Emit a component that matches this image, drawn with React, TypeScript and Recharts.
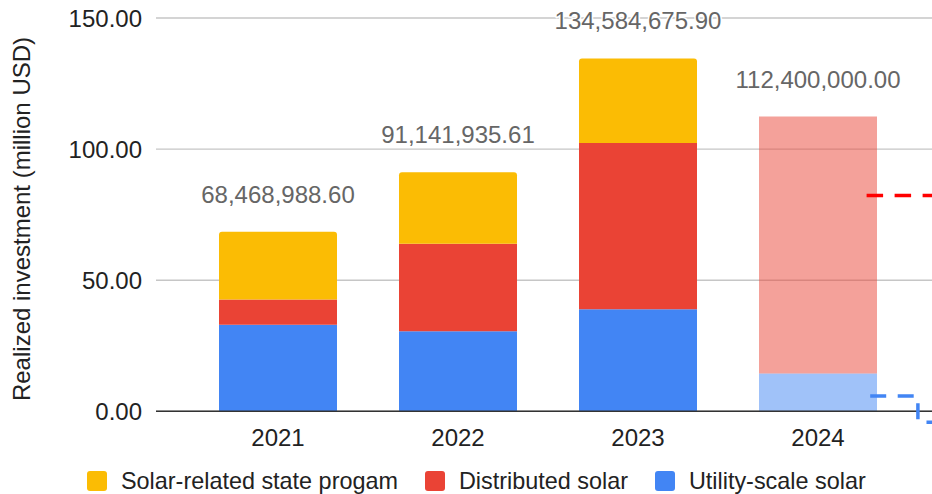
import React from 'react';
import {
  ComposedChart,
  Bar,
  Line,
  XAxis,
  YAxis,
  CartesianGrid,
  ReferenceLine,
  LabelList,
  Legend,
  Cell,
} from 'recharts';

// Realized solar investment per year, in million USD
const years = ['2021', '2022', '2023', '2024'];
const utilityScaleSolar = [33.0, 30.5, 38.9, 14.4];
const distributedSolar = [9.6, 33.4, 63.4, 98.0];
// Yearly totals in USD (the solar-related state program fills the rest of each stack)
const totalUsd = [68468988.6, 91141935.61, 134584675.9, 112400000.0];
// Years that are shown in a lighter shade
const partialYear = [false, false, false, true];
const yTicks = [0, 50, 100, 150];

// Dashed guide lines on the right, positioned on a numeric copy of the category axis
const distributedGuide = [
  { pos: 3.77, value: 82.3 },
  { pos: 4.3, value: 82.3 },
];
const utilityGuide = [
  { pos: 3.79, value: 5.8 },
  { pos: 4.055, value: 5.8 },
  { pos: 4.055, value: -4.2 },
  { pos: 4.3, value: -4.2 },
];

const COLORS = {
  state: '#fbbc04',
  distributed: '#ea4335',
  utility: '#4285f4',
};

const FONT = '"Liberation Sans", Arial, sans-serif';

const rows = years.map((year, i) => {
  const total = totalUsd[i] / 1e6;
  return {
    year,
    utility: utilityScaleSolar[i],
    distributed: distributedSolar[i],
    state: Math.max(0, total - utilityScaleSolar[i] - distributedSolar[i]),
    total,
    totalUsd: totalUsd[i],
  };
});

const legendItems = [
  { label: 'Solar-related state progam', color: COLORS.state },
  { label: 'Distributed solar', color: COLORS.distributed },
  { label: 'Utility-scale solar', color: COLORS.utility },
];

const formatUsd = (v: number) =>
  v.toLocaleString('en-US', { minimumFractionDigits: 2, maximumFractionDigits: 2 });

const TotalLabel = (props: any) => {
  const { x, y, index } = props;
  if (x == null || y == null) return null;
  return (
    <text
      x={x}
      y={y - 29}
      textAnchor="middle"
      fontFamily={FONT}
      fontSize={24}
      fill="#666666"
      stroke="#ffffff"
      strokeWidth={3}
      strokeLinejoin="round"
      paintOrder="stroke"
    >
      {formatUsd(rows[index].totalUsd)}
    </text>
  );
};

const YearTick = (props: any) => {
  const { x, y, payload } = props;
  return (
    <text x={x} y={y + 19} textAnchor="middle" fontFamily={FONT} fontSize={24} fill="#222222">
      {payload.value}
    </text>
  );
};

const LegendContent = () => (
  <div
    style={{
      display: 'flex',
      alignItems: 'center',
      paddingLeft: 87,
      fontFamily: FONT,
      fontSize: 23.4,
      color: '#222222',
      lineHeight: '26px',
    }}
  >
    {legendItems.map((item, i) => (
      <div
        key={item.label}
        style={{ display: 'flex', alignItems: 'center', marginRight: i < legendItems.length - 1 ? 27 : 0 }}
      >
        <span
          style={{
            display: 'inline-block',
            width: 20,
            height: 20,
            borderRadius: 3,
            background: item.color,
            marginRight: 14,
          }}
        />
        <span>{item.label}</span>
      </div>
    ))}
  </div>
);

export default function App() {
  return (
    <div style={{ position: 'fixed', left: 0, top: 0, width: 932, height: 494, background: '#fff' }}>
      <ComposedChart
        width={932}
        height={494}
        data={rows}
        margin={{ top: 18, right: 0, bottom: 37, left: 0 }}
        style={{ fontFamily: FONT }}
      >
        <CartesianGrid vertical={false} horizontalValues={yTicks} stroke="#c6c6c6" strokeWidth={1.4} />
        <XAxis
          dataKey="year"
          type="category"
          padding={{ left: 32, right: 24 }}
          axisLine={false}
          tickLine={false}
          tickSize={0}
          tickMargin={0}
          height={30}
          tick={<YearTick />}
          interval={0}
        />
        <XAxis
          xAxisId="guide"
          dataKey="pos"
          type="number"
          domain={[0, 4.1333]}
          allowDataOverflow
          padding={{ left: 32, right: 0 }}
          hide
        />
        <YAxis
          domain={[-6, 150]}
          allowDataOverflow
          ticks={yTicks}
          width={156}
          axisLine={false}
          tickLine={false}
          tickSize={0}
          tickMargin={14}
          tickFormatter={(v: number) => v.toFixed(2)}
          tick={{ fontSize: 24, fill: '#222222', fontFamily: FONT }}
          label={{
            content: () => (
              <text
                transform="translate(30,219) rotate(-90)"
                textAnchor="middle"
                fontFamily={FONT}
                fontSize={24}
                fill="#222222"
              >
                Realized investment (million USD)
              </text>
            ),
          }}
        />
        <Bar dataKey="utility" stackId="s" fill={COLORS.utility} barSize={118} isAnimationActive={false}>
          {rows.map((r, i) => (
            <Cell key={r.year} fill={COLORS.utility} fillOpacity={partialYear[i] ? 0.5 : 1} />
          ))}
        </Bar>
        <Bar dataKey="distributed" stackId="s" fill={COLORS.distributed} barSize={118} isAnimationActive={false}>
          {rows.map((r, i) => (
            <Cell key={r.year} fill={COLORS.distributed} fillOpacity={partialYear[i] ? 0.5 : 1} />
          ))}
        </Bar>
        <Bar
          dataKey="state"
          stackId="s"
          fill={COLORS.state}
          barSize={118}
          radius={[3, 3, 0, 0]}
          isAnimationActive={false}
        >
          {rows.map((r, i) => (
            <Cell key={r.year} fill={COLORS.state} fillOpacity={partialYear[i] ? 0.5 : 1} />
          ))}
        </Bar>
        <Line
          dataKey="total"
          stroke="none"
          dot={false}
          activeDot={false}
          legendType="none"
          isAnimationActive={false}
        >
          <LabelList dataKey="total" content={<TotalLabel />} />
        </Line>
        <ReferenceLine y={0} stroke="#333333" strokeWidth={1.6} />
        <Line
          xAxisId="guide"
          data={distributedGuide}
          dataKey="value"
          stroke="#ff0000"
          strokeWidth={3.5}
          strokeDasharray="16.5 11.5"
          dot={false}
          activeDot={false}
          legendType="none"
          isAnimationActive={false}
        />
        <Line
          xAxisId="guide"
          data={utilityGuide}
          dataKey="value"
          stroke={COLORS.utility}
          strokeWidth={3.5}
          strokeDasharray="16 11.5"
          dot={false}
          activeDot={false}
          legendType="none"
          isAnimationActive={false}
        />
        <Legend
          verticalAlign="middle"
          layout="horizontal"
          wrapperStyle={{ top: 468, left: 0, width: 932 }}
          content={<LegendContent />}
        />
      </ComposedChart>
    </div>
  );
}
